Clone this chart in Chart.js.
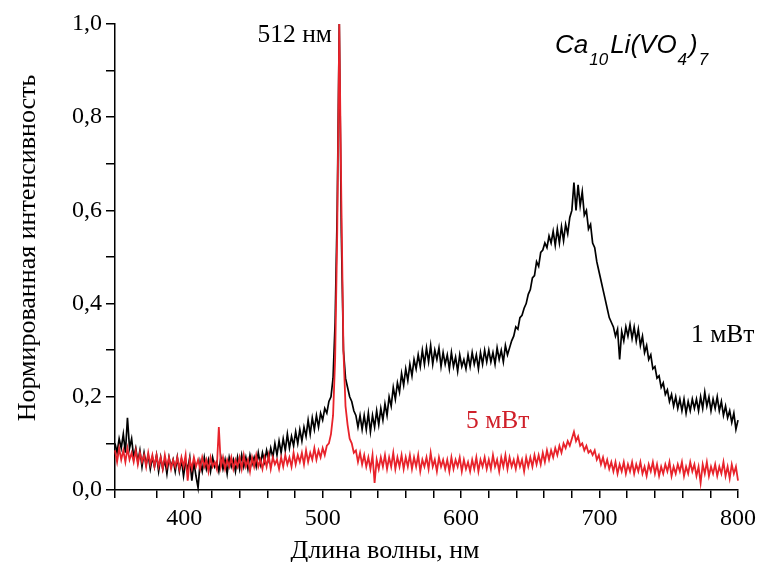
<!DOCTYPE html>
<html>
<head>
<meta charset="utf-8">
<script src="https://cdn.jsdelivr.net/npm/chart.js@4.4.0/dist/chart.umd.min.js"></script>
<style>
html,body{margin:0;padding:0;background:#fff;}
</style>
</head>
<body>
<canvas id="myChart" width="762" height="562"></canvas>
<script>
// wavelength grid, nm (350 ... 800)
const waveStart = 350, waveStep = 1.5;

// 1 mW, normalized intensity, 10 points per 15 nm
const power1mW = [
  0.10, 0.08, 0.11, 0.09, 0.12, 0.08, 0.155, 0.09, 0.11, 0.07,
  0.09, 0.06, 0.085, 0.05, 0.08, 0.055, 0.075, 0.045, 0.07, 0.05,
  0.075, 0.04, 0.07, 0.045, 0.065, 0.035, 0.07, 0.05, 0.065, 0.04,
  0.07, 0.04, 0.065, 0.03, 0.06, 0.045, 0.07, 0.02, 0.06, 0.03,
  0.005, 0.06, 0.04, 0.07, 0.045, 0.065, 0.04, 0.07, 0.05, 0.06,
  0.04, 0.07, 0.045, 0.065, 0.035, 0.07, 0.05, 0.065, 0.04, 0.07,
  0.045, 0.075, 0.05, 0.07, 0.045, 0.075, 0.055, 0.07, 0.05, 0.08,
  0.055, 0.08, 0.06, 0.085, 0.065, 0.09, 0.07, 0.10, 0.075, 0.105,
  0.08, 0.11, 0.085, 0.12, 0.09, 0.115, 0.095, 0.125, 0.10, 0.13,
  0.105, 0.135, 0.115, 0.15, 0.12, 0.155, 0.13, 0.16, 0.135, 0.165,
  0.15, 0.175, 0.165, 0.19, 0.20, 0.24, 0.36, 0.60, 1.0, 0.55,
  0.30, 0.24, 0.22, 0.20, 0.19, 0.17, 0.16, 0.135, 0.16, 0.13,
  0.16, 0.13, 0.165, 0.125, 0.16, 0.135, 0.17, 0.14, 0.175, 0.15,
  0.185, 0.16, 0.20, 0.18, 0.22, 0.195, 0.23, 0.21, 0.25, 0.225,
  0.26, 0.235, 0.27, 0.245, 0.28, 0.26, 0.29, 0.265, 0.30, 0.27,
  0.305, 0.275, 0.31, 0.27, 0.30, 0.28, 0.305, 0.265, 0.295, 0.27,
  0.29, 0.26, 0.295, 0.265, 0.285, 0.255, 0.29, 0.265, 0.28, 0.26,
  0.29, 0.265, 0.295, 0.27, 0.29, 0.26, 0.295, 0.27, 0.30, 0.275,
  0.30, 0.275, 0.295, 0.27, 0.305, 0.28, 0.30, 0.275, 0.31, 0.29,
  0.305, 0.32, 0.33, 0.35, 0.345, 0.37, 0.375, 0.39, 0.40, 0.42,
  0.43, 0.455, 0.46, 0.49, 0.48, 0.51, 0.515, 0.53, 0.52, 0.545,
  0.53, 0.555, 0.525, 0.56, 0.53, 0.565, 0.535, 0.57, 0.55, 0.585,
  0.60, 0.66, 0.60, 0.655, 0.61, 0.64, 0.59, 0.60, 0.56, 0.57,
  0.53, 0.52, 0.49, 0.47, 0.45, 0.43, 0.41, 0.39, 0.37, 0.36,
  0.35, 0.33, 0.345, 0.28, 0.34, 0.32, 0.35, 0.33, 0.355, 0.325,
  0.35, 0.32, 0.345, 0.31, 0.33, 0.295, 0.31, 0.28, 0.29, 0.26,
  0.265, 0.24, 0.245, 0.22, 0.23, 0.205, 0.215, 0.19, 0.205, 0.18,
  0.20, 0.175, 0.195, 0.17, 0.195, 0.165, 0.19, 0.17, 0.195, 0.175,
  0.195, 0.17, 0.20, 0.175, 0.21, 0.18, 0.20, 0.17, 0.195, 0.175,
  0.20, 0.17, 0.19, 0.16, 0.18, 0.155, 0.17, 0.145, 0.165, 0.13,
  0.15
];

// 5 mW
const power5mW = [
  0.085, 0.06, 0.09, 0.065, 0.085, 0.06, 0.09, 0.065, 0.08, 0.06,
  0.085, 0.055, 0.08, 0.06, 0.075, 0.05, 0.08, 0.055, 0.075, 0.05,
  0.075, 0.05, 0.07, 0.045, 0.075, 0.05, 0.07, 0.045, 0.065, 0.05,
  0.07, 0.045, 0.07, 0.05, 0.075, 0.02, 0.065, 0.045, 0.07, 0.05,
  0.065, 0.045, 0.07, 0.05, 0.065, 0.04, 0.07, 0.05, 0.06, 0.045,
  0.135, 0.05, 0.07, 0.045, 0.065, 0.05, 0.07, 0.045, 0.065, 0.05,
  0.07, 0.045, 0.075, 0.05, 0.065, 0.04, 0.07, 0.05, 0.075, 0.05,
  0.065, 0.045, 0.07, 0.05, 0.075, 0.045, 0.07, 0.055, 0.065, 0.045,
  0.07, 0.05, 0.075, 0.055, 0.07, 0.05, 0.08, 0.055, 0.075, 0.06,
  0.08, 0.055, 0.085, 0.06, 0.08, 0.065, 0.09, 0.065, 0.085, 0.07,
  0.09, 0.075, 0.095, 0.10, 0.12, 0.16, 0.28, 0.55, 1.0, 0.62,
  0.30, 0.18, 0.14, 0.11, 0.10, 0.08, 0.085, 0.06, 0.08, 0.055,
  0.075, 0.05, 0.07, 0.045, 0.075, 0.015, 0.065, 0.045, 0.07, 0.05,
  0.075, 0.045, 0.07, 0.05, 0.08, 0.045, 0.07, 0.05, 0.075, 0.045,
  0.07, 0.05, 0.075, 0.045, 0.07, 0.05, 0.075, 0.04, 0.065, 0.05,
  0.07, 0.045, 0.08, 0.05, 0.065, 0.04, 0.07, 0.05, 0.065, 0.045,
  0.065, 0.04, 0.07, 0.045, 0.065, 0.05, 0.07, 0.04, 0.065, 0.045,
  0.06, 0.04, 0.065, 0.045, 0.07, 0.04, 0.065, 0.05, 0.07, 0.045,
  0.065, 0.045, 0.075, 0.05, 0.065, 0.04, 0.07, 0.05, 0.075, 0.045,
  0.07, 0.05, 0.065, 0.045, 0.07, 0.05, 0.065, 0.04, 0.07, 0.05,
  0.07, 0.05, 0.075, 0.055, 0.075, 0.055, 0.08, 0.06, 0.085, 0.065,
  0.085, 0.07, 0.09, 0.075, 0.095, 0.08, 0.10, 0.09, 0.105, 0.095,
  0.11, 0.125, 0.105, 0.115, 0.095, 0.10, 0.085, 0.095, 0.08, 0.085,
  0.075, 0.085, 0.065, 0.075, 0.055, 0.07, 0.05, 0.065, 0.045, 0.06,
  0.04, 0.06, 0.035, 0.055, 0.04, 0.06, 0.035, 0.055, 0.04, 0.06,
  0.035, 0.055, 0.04, 0.06, 0.035, 0.05, 0.03, 0.055, 0.04, 0.06,
  0.035, 0.055, 0.03, 0.05, 0.035, 0.055, 0.04, 0.06, 0.03, 0.05,
  0.035, 0.055, 0.04, 0.06, 0.03, 0.05, 0.035, 0.06, 0.04, 0.055,
  0.03, 0.05, 0.015, 0.055, 0.035, 0.06, 0.03, 0.05, 0.035, 0.055,
  0.03, 0.05, 0.035, 0.06, 0.03, 0.05, 0.025, 0.055, 0.035, 0.05,
  0.02
];

const seriesLabels = ['1 мВт', '5 мВт'];

function toPoints(values) {
  return values.map((v, i) => ({ x: waveStart + i * waveStep, y: v }));
}

const serif = "'Liberation Serif', 'Times New Roman', serif";

// text labels drawn on top of the plot
const labelsPlugin = {
  id: 'labels',
  afterDraw(chart) {
    const ctx = chart.ctx;
    ctx.save();
    ctx.fillStyle = '#000';
    ctx.textBaseline = 'alphabetic';

    ctx.font = '25.5px ' + serif;
    ctx.textAlign = 'right';
    ctx.fillText('512 нм', 332, 42);

    ctx.textAlign = 'left';
    ctx.fillText(seriesLabels[0], 691, 342);
    ctx.fillStyle = '#d0202a';
    ctx.fillText(seriesLabels[1], 466, 428);

    // axis titles
    ctx.fillStyle = '#000';
    ctx.font = '26px ' + serif;
    ctx.textAlign = 'center';
    ctx.fillText('Длина волны, нм', 385, 558);
    ctx.save();
    ctx.translate(35, 248);
    ctx.rotate(-Math.PI / 2);
    ctx.fillText('Нормированная интенсивность', 0, 0);
    ctx.restore();

    // formula Ca10Li(VO4)7
    const parts = [['Ca', 0], ['10', 1], ['Li(VO', 0], ['4', 1], [')', 0], ['7', 1]];
    let x = 555;
    ctx.textAlign = 'left';
    parts.forEach(p => {
      ctx.font = p[1] ? 'italic 17px "Liberation Sans", Arial, sans-serif' : 'italic 26px "Liberation Sans", Arial, sans-serif';
      ctx.fillText(p[0], x, p[1] ? 65 : 53);
      x += ctx.measureText(p[0]).width + (p[1] ? 2 : 1);
    });
    ctx.restore();
  }
};

const ctx = document.getElementById('myChart').getContext('2d');
const myChart = new Chart(ctx, {
  type: 'line',
  data: {
    datasets: [{
      label: seriesLabels[0],
      data: toPoints(power1mW),
      borderColor: '#000000',
      borderWidth: 1.7,
      pointRadius: 0,
      order: 2,
      clip: 4
    }, {
      label: seriesLabels[1],
      data: toPoints(power5mW),
      borderColor: '#e8232b',
      borderWidth: 1.8,
      pointRadius: 0,
      order: 1,
      clip: 4
    }]
  },
  options: {
    responsive: false,
    animation: false,
    devicePixelRatio: 1,
    layout: { padding: { top: 24, right: 21, left: 0, bottom: 0 } },
    plugins: {
      legend: { display: false },
      tooltip: { enabled: false }
    },
    scales: {
      x: {
        type: 'linear',
        min: 350,
        max: 800,
        afterFit: s => { s.height = 72; },
        ticks: {
          stepSize: 20,
          autoSkip: false,
          maxRotation: 0,
          padding: 6,
          color: '#000',
          font: { family: serif, size: 24 },
          callback: v => (v % 100 === 0 ? v : '')
        },
        grid: { drawOnChartArea: false, tickLength: 8, color: '#000', lineWidth: 1.5 },
        border: { color: '#000', width: 1.5 }
      },
      y: {
        min: 0,
        max: 1,
        afterFit: s => { s.width = 115; },
        ticks: {
          stepSize: 0.1,
          autoSkip: false,
          padding: 4,
          color: '#000',
          font: { family: serif, size: 24 },
          callback: v => {
            const k = Math.round(v * 10);
            return k % 2 === 0 ? (k / 10).toFixed(1).replace('.', ',') : '';
          }
        },
        grid: { drawOnChartArea: false, tickLength: 9, color: '#000', lineWidth: 1.5 },
        border: { color: '#000', width: 1.5 }
      }
    }
  },
  plugins: [labelsPlugin]
});
</script>
</body>
</html>
